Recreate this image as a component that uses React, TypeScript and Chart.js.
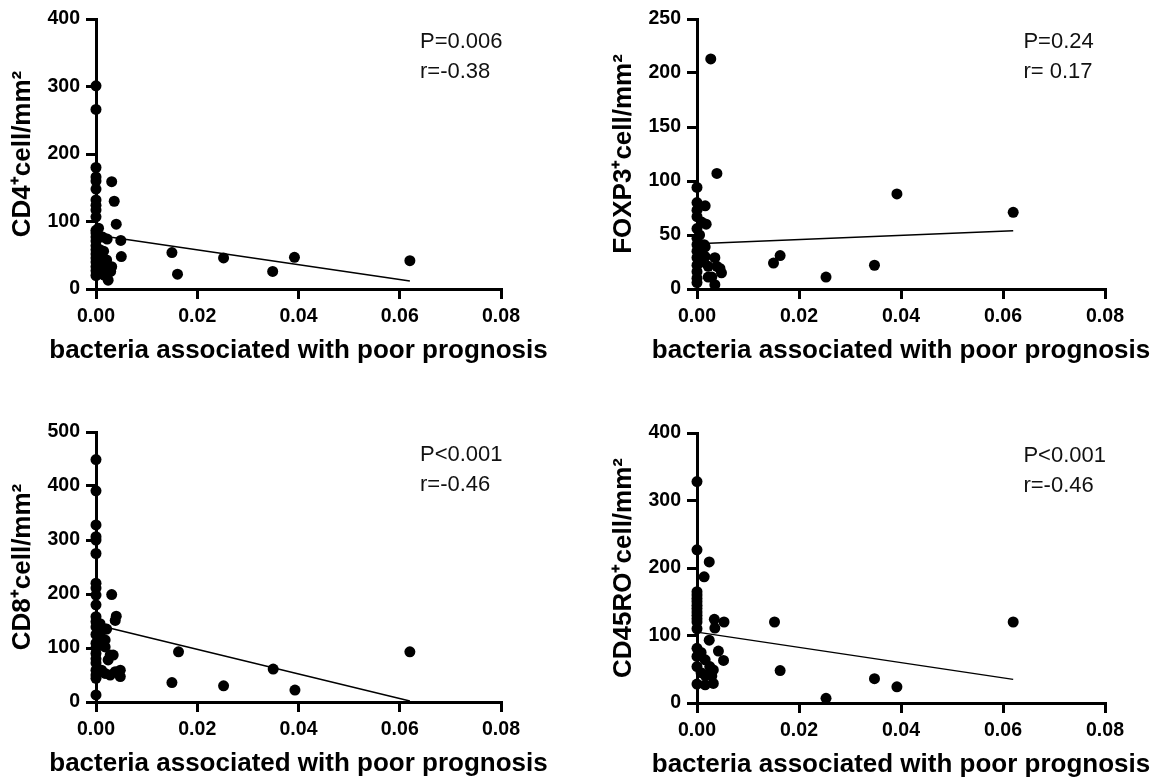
import React, { useEffect, useRef } from "react";
import { Chart, registerables } from "chart.js";

Chart.register(...registerables);

const FONT = '"Liberation Sans", Arial, Helvetica, sans-serif';

const xTicks = [0, 0.02, 0.04, 0.06, 0.08];
const xTitle = "bacteria associated with poor prognosis";

// CD4+ panel
const cd4X = [0, 0, 0, 0, 0, 0, 0, 0, 0, 0, 0, 0, 0, 0, 0, 0, 0, 0, 0, 0, 0, 0,
  0.0008, 0.0015, 0.0008, 0.0021, 0.0031, 0.0024, 0.0024, 0.0015, 0.0008, 0.0029, 0.0013, 0.0022,
  0.0031, 0.0036, 0.004, 0.0049, 0.005, 0.0005, 0.0012, 0.0018,
  0.015, 0.0161, 0.0252, 0.0349, 0.0392, 0.062];
const cd4Y = [301, 266, 180, 166, 160, 148, 132, 124, 117, 107, 87, 83, 77, 71, 64, 58, 52, 46, 40, 33, 27, 20,
  58, 56, 43, 43, 33, 24, 13, 21, 28, 26, 77, 74,
  159, 130, 96, 72, 48, 90, 35, 30,
  54, 22, 46, 26, 47, 42];
const cd4FitX = [0, 0.062];
const cd4FitY = [80, 12];

// FOXP3+ panel
const foxX = [0, 0, 0, 0, 0, 0, 0, 0, 0, 0, 0, 0, 0,
  0.0009, 0.0016, 0.0018, 0.0014, 0.0016, 0.0016, 0.0022, 0.0035, 0.0048, 0.0045, 0.0039, 0.0035,
  0.0029, 0.0022, 0.0027, 0.0039, 0.0005, 0.0008, 0.0006,
  0.015, 0.0163, 0.0253, 0.0348, 0.0392, 0.062];
const foxY = [94, 80, 73, 67, 56, 47, 41, 35, 29, 22, 16, 10, 6,
  62, 77, 60, 41, 39, 30, 21, 29, 15, 19, 21, 4,
  11, 11, 213, 107, 50, 25, 35,
  24, 31, 11, 22, 88, 71];
const foxFitX = [0, 0.062];
const foxFitY = [42, 54];

// CD8+ panel
const cd8X = [0, 0, 0, 0, 0, 0, 0, 0, 0, 0, 0, 0, 0, 0, 0, 0, 0, 0, 0, 0, 0, 0, 0,
  0.0031, 0.004, 0.0038, 0.0011, 0.0008, 0.0018, 0.0018, 0.0018, 0.0028, 0.0024, 0.0011, 0.0018,
  0.0028, 0.0048, 0.0048, 0.0038, 0.0034, 0.0021, 0.0008,
  0.015, 0.0163, 0.0252, 0.035, 0.0393, 0.062];
const cd8Y = [449, 391, 328, 306, 300, 275, 220, 211, 198, 180, 158, 149, 139, 109, 90, 72, 59, 50, 44, 13, 125, 100, 80,
  199, 159, 151, 133, 124, 135, 115, 102, 87, 78, 59, 53,
  50, 59, 47, 56, 87, 135, 145,
  36, 93, 30, 61, 22, 93];
const cd8FitX = [0, 0.062];
const cd8FitY = [143, 2];

// CD45RO+ panel
const roX = [0, 0, 0, 0, 0, 0, 0, 0, 0, 0, 0, 0, 0, 0, 0, 0, 0,
  0.0024, 0.0014, 0.0034, 0.0053, 0.0035, 0.0024, 0.0042, 0.0052, 0.0016, 0.0025, 0.0032, 0.0016,
  0.0029, 0.0016, 0.0032, 0.0008, 0.0008,
  0.0152, 0.0163, 0.0253, 0.0348, 0.0392, 0.062];
const roY = [328, 227, 165, 160, 155, 150, 145, 140, 135, 130, 125, 120, 110, 81, 69, 54, 28,
  209, 187, 124, 120, 111, 93, 77, 63, 64, 54, 49, 41,
  40, 27, 29, 75, 45,
  120, 48, 7, 36, 24, 120];
const roFitX = [0, 0.062];
const roFitY = [105, 35];

type Panel = {
  xs: number[]; ys: number[]; fitX: number[]; fitY: number[];
  yMax: number; yStep: number; yTitle: string; stats: string[];
  left: number; top: number; width: number; height: number;
  pad: { left: number; right: number; top: number; bottom: number };
};

const panels: Panel[] = [
  { xs: cd4X, ys: cd4Y, fitX: cd4FitX, fitY: cd4FitY, yMax: 400, yStep: 100, yTitle: "CD4\u207Acell/mm\u00B2",
    stats: ["P=0.006", "r=-0.38"], left: 0, top: 0, width: 577, height: 389,
    pad: { left: 10, right: 76, top: 19, bottom: 25 } },
  { xs: foxX, ys: foxY, fitX: foxFitX, fitY: foxFitY, yMax: 250, yStep: 50, yTitle: "FOXP3\u207Acell/mm\u00B2",
    stats: ["P=0.24", "r= 0.17"], left: 577, top: 0, width: 578, height: 389,
    pad: { left: 34, right: 50, top: 19, bottom: 25 } },
  { xs: cd8X, ys: cd8Y, fitX: cd8FitX, fitY: cd8FitY, yMax: 500, yStep: 100, yTitle: "CD8\u207Acell/mm\u00B2",
    stats: ["P<0.001", "r=-0.46"], left: 0, top: 389, width: 577, height: 390,
    pad: { left: 10, right: 76, top: 43, bottom: 2 } },
  { xs: roX, ys: roY, fitX: roFitX, fitY: roFitY, yMax: 400, yStep: 100, yTitle: "CD45RO\u207Acell/mm\u00B2",
    stats: ["P<0.001", "r=-0.46"], left: 577, top: 389, width: 578, height: 390,
    pad: { left: 34, right: 50, top: 44, bottom: 1 } },
];

const textPlugin = {
  id: "panelText",
  afterDraw(chart: any, _args: any, opts: any) {
    const { ctx, chartArea, scales } = chart;
    const x = scales.x.getPixelForValue(opts.x);
    ctx.save();
    ctx.fillStyle = "#111";
    ctx.font = `22px ${FONT}`;
    ctx.textAlign = "left";
    ctx.textBaseline = "alphabetic";
    (opts.lines as string[]).forEach((t, i) => ctx.fillText(t, x, chartArea.top + 29 + i * 30));
    // x-axis title (wider than the plot area, so drawn without a max width)
    ctx.fillStyle = "#000";
    ctx.font = `bold 26px ${FONT}`;
    ctx.textAlign = "center";
    ctx.textBaseline = "middle";
    ctx.fillText(opts.xTitle, (chartArea.left + chartArea.right) / 2, chartArea.bottom + 62);
    ctx.restore();
  },
};

function axisCommon() {
  return {
    grid: { drawOnChartArea: false, drawTicks: true, tickLength: 10, lineWidth: 3, color: "#000" },
    border: { display: true, width: 3, color: "#000" },
  };
}

function PanelChart({ p }: { p: Panel }) {
  const ref = useRef<HTMLCanvasElement | null>(null);
  useEffect(() => {
    if (!ref.current) return;
    const points = p.xs.map((x, i) => ({ x, y: p.ys[i] }));
    const fit = p.fitX.map((x, i) => ({ x, y: p.fitY[i] }));
    const chart = new Chart(ref.current, {
      type: "scatter",
      data: {
        datasets: [
          { type: "line", data: fit, borderColor: "#000", borderWidth: 1.5, pointRadius: 0, fill: false, clip: false } as any,
          { data: points, backgroundColor: "#000", borderWidth: 0, pointRadius: 5.5, pointHoverRadius: 5.5, clip: false } as any,
        ],
      },
      options: {
        responsive: false,
        animation: false,
        devicePixelRatio: 1,
        layout: { padding: p.pad },
        plugins: {
          legend: { display: false },
          tooltip: { enabled: false },
          panelText: { x: 0.064, lines: p.stats, xTitle },
        } as any,
        scales: {
          x: {
            type: "linear",
            min: 0,
            max: 0.08,
            afterBuildTicks: (s: any) => { s.ticks = xTicks.map((v) => ({ value: v })); },
            afterFit: (s: any) => { s.height = 75; },
            ticks: {
              font: { size: 19.5, weight: "bold", family: FONT },
              color: "#000",
              padding: 6,
              maxRotation: 0,
              autoSkip: false,
              callback: (v: any) => Number(v).toFixed(2),
            },
            title: { display: false },
            ...axisCommon(),
          },
          y: {
            type: "linear",
            min: 0,
            max: p.yMax,
            afterFit: (s: any) => { s.width = 86; },
            ticks: {
              stepSize: p.yStep,
              font: { size: 19.5, weight: "bold", family: FONT },
              color: "#000",
              padding: 6,
            },
            title: { display: true, text: p.yTitle, color: "#000", padding: 0,
              font: { size: 26, weight: "bold", family: FONT, lineHeight: 1 } },
            ...axisCommon(),
          },
        } as any,
      },
      plugins: [textPlugin as any],
    });
    return () => chart.destroy();
  }, [p]);
  return (
    <canvas
      ref={ref}
      width={p.width}
      height={p.height}
      style={{ position: "absolute", left: p.left, top: p.top, width: p.width, height: p.height }}
    />
  );
}

export default function App() {
  return (
    <div style={{ position: "absolute", left: 0, top: 0, width: 1155, height: 779, background: "#fff", overflow: "hidden" }}>
      {panels.map((p, i) => (
        <PanelChart key={i} p={p} />
      ))}
    </div>
  );
}
